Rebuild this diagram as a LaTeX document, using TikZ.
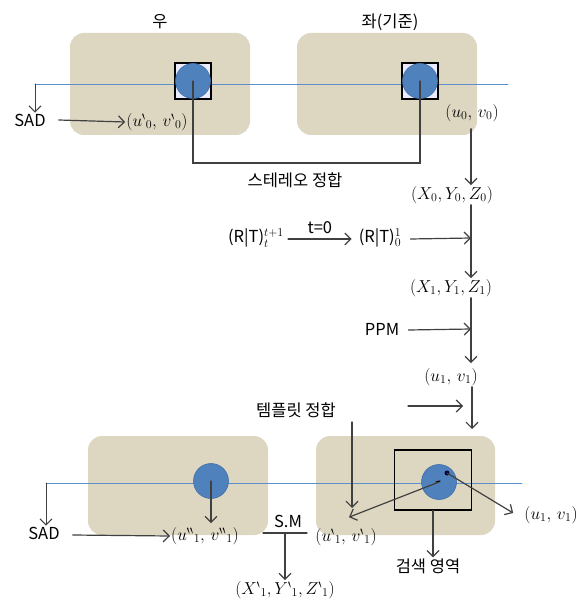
\documentclass[tikz,border=0pt]{standalone}
\usepackage{amsmath,amssymb}
\usepackage{fontspec}
\setmainfont{Noto Sans CJK KR}
\usetikzlibrary{arrows.meta}
\definecolor{imgbox}{HTML}{DDD7C2}
\definecolor{blob}{HTML}{4F81BD}
\definecolor{blobedge}{HTML}{3F6DA8}
\definecolor{scan}{HTML}{5B8FC9}
\newcommand{\bq}{^{\backprime}{}}
\newcommand{\bqq}{^{\backprime\backprime}{}}

\tikzset{
  imgarea/.style={fill=imgbox,rounded corners=14pt},
  patch/.style={circle,fill=blob,draw=blobedge,line width=0.6pt,minimum size=35pt,inner sep=0pt},
  win/.style={draw,line width=1.1pt,minimum size=36pt,inner sep=0pt},
  lbl/.style={inner sep=1pt},
  flow/.style={->,line width=1.2pt,black!75},
}

\begin{document}
\begin{tikzpicture}[x=1pt,y=-1pt,>={Straight Barb[length=6pt,width=12pt]},font=\fontsize{16.5}{19}\selectfont,line cap=round]
\useasboundingbox (0,0) rectangle (586,609);
% image planes, top row
\fill[imgarea] (70,33) rectangle (250,135);
\fill[imgarea] (297,33) rectangle (477,135);
\node[lbl] (right) at (160,22) {우};
\node[lbl] (left) at (390,22) {좌(기준)};
\coordinate (scanA0) at (35,84);
\coordinate (scanA1) at (508,84);
\draw[scan,line width=0.8pt] (scanA0) -- (scanA1);
\node[win,fill=blue!8] (winR) at (193,81) {};
\node[win,fill=blue!8] (winL) at (420,81) {};
\node[patch] (pR) at (193,81) {};
\node[patch] (pL) at (420,81) {};
\node[lbl] (sad0) at (30,120) {SAD};
\node[lbl] (uvR0) at (157,122) {$(u\bq_{0},\,v\bq_{0})$};
\node[lbl] (uvL0) at (472,113) {$(u_{0},\,v_{0})$};
\coordinate (axis) at (471,0);
\draw[flow,line width=1pt] (scanA0) -- (scanA0 |- sad0.north);
\draw[flow] (sad0.east) ++(12,0) -- (uvR0.west);
% stereo matching
\draw[line width=1.2pt,black!75] (pR.center) -- ++(0,82) -| (pL.center);
\node[lbl] (stereo) at (295,180) {스테레오 정합};
% main chain
\node[lbl] (xyz0) at (452,195) {$(X_{0},Y_{0},Z_{0})$};
\node[lbl] (xyz1) at (451,288) {$(X_{1},Y_{1},Z_{1})$};
\node[lbl] (uv1) at (451,377) {$(u_{1},\,v_{1})$};
\draw[flow] (uvL0.south -| axis) ++(0,6) -- (xyz0.north -| axis);
\draw[flow] (xyz0.south -| axis) -- (xyz1.north -| axis);
\draw[flow] (xyz1.south -| axis) -- ([yshift=4pt]uv1.north -| axis);
\coordinate (tmplTop) at (472,429);
\draw[flow] (uv1.south -| tmplTop) -- (tmplTop);
% motion
\node[lbl] (rtT) at (256,238) {(R|T)$^{t+1}_{t}$};
\node[lbl] (rt0) at (380,238) {(R|T)$^{1}_{0}$};
\draw[flow] (rtT.east) ++(3,1) -- node[above=1pt,black] {t=0} ([xshift=-6pt,yshift=-1pt]rt0.west);
\draw[flow] (rt0.east) ++(8,1) -- (rt0.east -| axis);
\node[lbl] (ppm) at (382,329) {PPM};
\draw[flow] (ppm.east) ++(8,1) -- (ppm.east -| axis);
% template matching
\node[lbl] (tmpl) at (296,410) {템플릿 정합};
\coordinate (tmplIn) at (408,406);
\draw[flow] (tmplIn) -- ++(55,0);
% image planes, bottom row
\fill[imgarea] (88,436) rectangle (268,535);
\fill[imgarea] (316,436) rectangle (495,535);
\coordinate (scanB0) at (46,483);
\coordinate (scanB1) at (522,483);
\draw[scan,line width=0.8pt] (scanB0) -- (scanB1);
\node[patch] (pR1) at (211,481) {};
\node[draw,line width=1.1pt,minimum width=77pt,minimum height=60pt,inner sep=0pt] (search) at (433,480) {};
\node[patch] (pL1) at (439,482) {};
\fill[black!80!blue] (447,473) circle (2.5pt) coordinate (peak);
\draw[line width=1.2pt] (pL1.center) ++(-3,0) -- ++(4,-1);
\node[lbl] (sad1) at (44,533) {SAD};
\node[lbl] (uvR1) at (205,536) {$(u\bqq_{1},\,v\bqq_{1})$};
\node[lbl] (uvT1) at (346,537) {$(u\bq_{1},\,v\bq_{1})$};
\node[lbl] (uvP1) at (551,515) {$(u_{1},\,v_{1})$};
\node[lbl] (area) at (428,566) {검색 영역};
\draw[flow,line width=1pt] (scanB0) -- (scanB0 |- sad1.north);
\draw[flow] (sad1.east) ++(12,2) -- (uvR1.west);
\draw[flow] (pR1.center) -- ([yshift=3pt]pR1.center |- uvR1.north);
\draw[flow] (352,422) -- (352,508);
\draw[flow] (pL1.center) -- ([xshift=3pt,yshift=10pt]uvT1.north);
\draw[flow] (peak) -- ([xshift=-10pt,yshift=2pt]uvP1.west);
\draw[flow] (search.south) -- (search.south |- area.north);
% stereo matching, second frame
\node[lbl] (sm) at (288,521) {S.M};
\node[lbl] (xyzT1) at (285,590) {$(X\bq_{1},Y\bq_{1},Z\bq_{1})$};
\coordinate (smFork) at (285,533);
\draw[line width=1.2pt,black!75] (263,533) -- (307,533);
\draw[flow] (smFork) -- (smFork |- xyzT1.north);
\end{tikzpicture}
\end{document}
